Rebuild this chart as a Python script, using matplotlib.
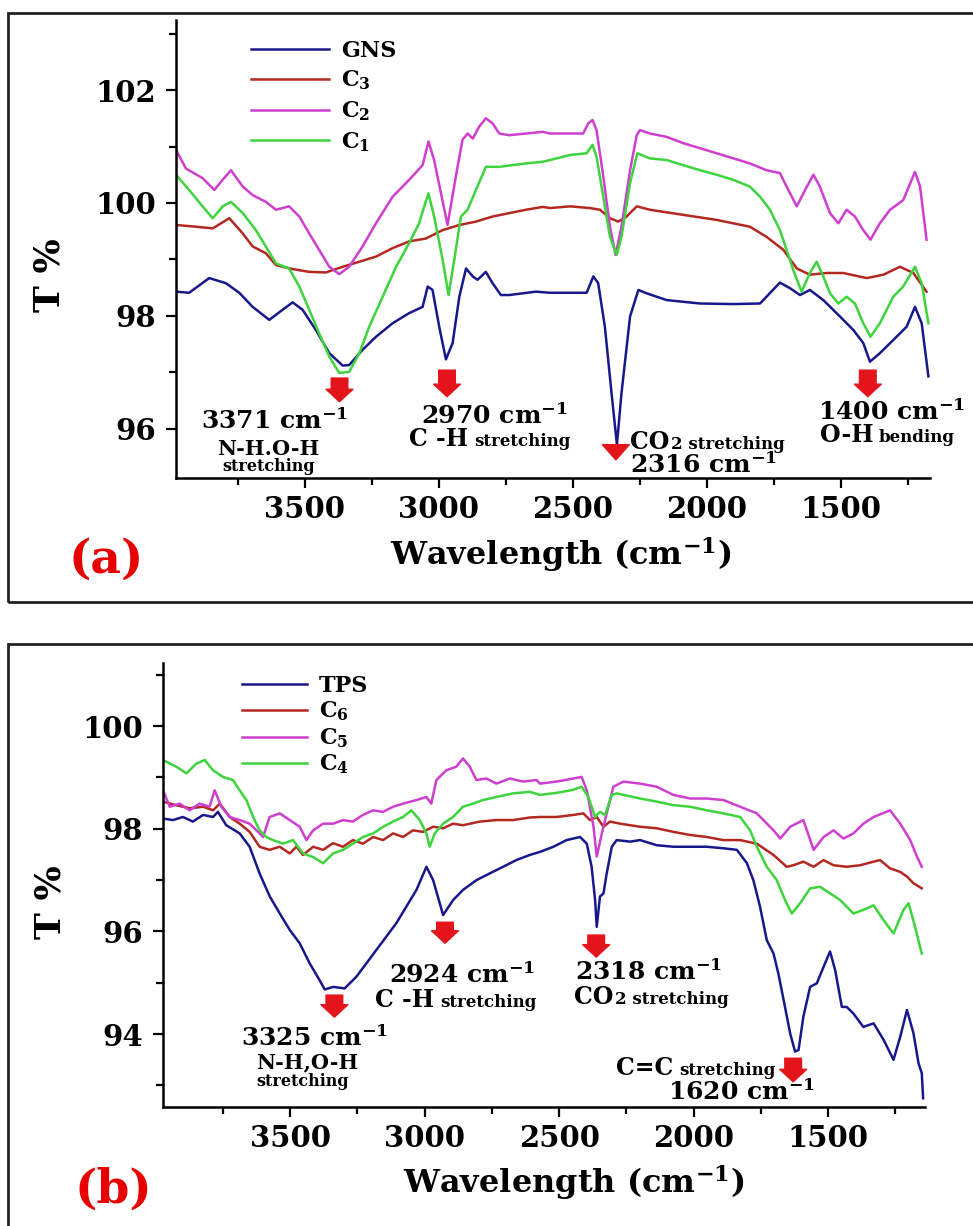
import matplotlib
matplotlib.use("Agg")
import matplotlib.pyplot as plt
from matplotlib.offsetbox import TextArea, HPacker, AnnotationBbox
from matplotlib.patches import Rectangle
from matplotlib.ticker import MultipleLocator

plt.rcParams["font.family"] = "DejaVu Serif"
plt.rcParams["font.weight"] = "bold"
plt.rcParams["axes.labelweight"] = "bold"
plt.rcParams["mathtext.fontset"] = "custom"
plt.rcParams["mathtext.rm"] = "DejaVu Serif:bold"
plt.rcParams["mathtext.it"] = "DejaVu Serif:italic:bold"
plt.rcParams["mathtext.bf"] = "DejaVu Serif:bold"

# ---- panel (a) spectra: (wavenumber cm-1, T %) ----
gns = [(3981, 98.43), (3932, 98.41), (3857, 98.67), (3795, 98.58), (3745, 98.41), (3695, 98.16),
       (3633, 97.93), (3583, 98.11), (3546, 98.24), (3509, 98.11), (3459, 97.75), (3409, 97.34),
       (3359, 97.12), (3335, 97.13), (3285, 97.40), (3235, 97.63), (3173, 97.87), (3111, 98.05),
       (3061, 98.16), (3042, 98.52), (3024, 98.46), (2999, 97.81), (2974, 97.23), (2949, 97.52),
       (2924, 98.34), (2899, 98.84), (2874, 98.70), (2856, 98.64), (2825, 98.78), (2800, 98.58),
       (2769, 98.37), (2738, 98.37), (2638, 98.43), (2586, 98.41), (2449, 98.41), (2424, 98.70),
       (2406, 98.58), (2381, 97.81), (2356, 96.63), (2336, 95.72), (2319, 96.63), (2287, 97.99),
       (2256, 98.46), (2225, 98.40), (2150, 98.28), (2026, 98.22), (1902, 98.21), (1802, 98.22),
       (1728, 98.59), (1690, 98.49), (1653, 98.37), (1616, 98.46), (1566, 98.28), (1504, 97.99),
       (1454, 97.75), (1417, 97.52), (1392, 97.19), (1355, 97.34), (1293, 97.63), (1255, 97.81),
       (1224, 98.16), (1199, 97.87), (1174, 96.93)]
c3 = [(3981, 99.61), (3907, 99.58), (3844, 99.55), (3782, 99.73), (3732, 99.46), (3695, 99.23),
      (3646, 99.11), (3608, 98.90), (3546, 98.83), (3484, 98.78), (3422, 98.77), (3359, 98.87),
      (3297, 98.96), (3235, 99.05), (3173, 99.20), (3111, 99.32), (3049, 99.37), (2986, 99.52),
      (2924, 99.61), (2862, 99.67), (2800, 99.76), (2738, 99.82), (2675, 99.88), (2613, 99.93),
      (2586, 99.91), (2511, 99.94), (2437, 99.91), (2399, 99.88), (2362, 99.73), (2331, 99.67),
      (2300, 99.76), (2262, 99.94), (2213, 99.88), (2089, 99.79), (1964, 99.70), (1840, 99.58),
      (1778, 99.40), (1715, 99.17), (1665, 98.84), (1616, 98.73), (1554, 98.76), (1492, 98.76),
      (1404, 98.67), (1342, 98.73), (1280, 98.87), (1230, 98.76), (1181, 98.43)]
c2 = [(3981, 100.94), (3944, 100.61), (3882, 100.44), (3838, 100.23), (3807, 100.41), (3776, 100.58),
      (3732, 100.29), (3695, 100.14), (3646, 100.02), (3608, 99.88), (3559, 99.94), (3521, 99.76),
      (3484, 99.46), (3447, 99.17), (3409, 98.87), (3372, 98.74), (3335, 98.87), (3285, 99.23),
      (3235, 99.64), (3173, 100.11), (3111, 100.41), (3061, 100.67), (3039, 101.09), (3018, 100.76),
      (2968, 99.61), (2937, 100.47), (2912, 101.12), (2893, 101.23), (2874, 101.14), (2850, 101.35),
      (2825, 101.50), (2800, 101.41), (2775, 101.23), (2738, 101.20), (2613, 101.26), (2586, 101.23),
      (2462, 101.23), (2443, 101.41), (2427, 101.47), (2412, 101.29), (2387, 100.47), (2362, 99.58),
      (2341, 99.08), (2319, 99.58), (2287, 100.58), (2262, 101.20), (2250, 101.29), (2213, 101.23),
      (2150, 101.17), (2089, 101.06), (1964, 100.88), (1840, 100.70), (1778, 100.58), (1728, 100.53),
      (1703, 100.29), (1665, 99.94), (1634, 100.23), (1603, 100.50), (1579, 100.29), (1541, 99.82),
      (1510, 99.64), (1479, 99.88), (1448, 99.76), (1417, 99.52), (1390, 99.35), (1355, 99.64),
      (1317, 99.88), (1268, 100.05), (1224, 100.55), (1205, 100.29), (1181, 99.35)]
c1 = [(3981, 100.50), (3932, 100.23), (3882, 99.94), (3844, 99.73), (3807, 99.94), (3776, 100.02),
      (3732, 99.82), (3683, 99.52), (3646, 99.23), (3608, 98.93), (3559, 98.84), (3521, 98.52),
      (3484, 98.11), (3447, 97.69), (3409, 97.28), (3372, 96.99), (3335, 97.01), (3297, 97.34),
      (3260, 97.81), (3210, 98.34), (3160, 98.87), (3111, 99.29), (3074, 99.64), (3055, 99.94),
      (3039, 100.17), (3018, 99.76), (2986, 98.99), (2964, 98.37), (2943, 98.99), (2918, 99.76),
      (2893, 99.88), (2862, 100.23), (2825, 100.64), (2775, 100.64), (2675, 100.70), (2613, 100.73),
      (2586, 100.76), (2511, 100.85), (2449, 100.88), (2427, 101.03), (2412, 100.82), (2387, 100.11),
      (2362, 99.40), (2337, 99.08), (2319, 99.40), (2287, 100.35), (2260, 100.88), (2213, 100.79),
      (2150, 100.76), (2089, 100.67), (2026, 100.58), (1964, 100.50), (1902, 100.41), (1840, 100.29),
      (1802, 100.11), (1765, 99.88), (1728, 99.52), (1703, 99.17), (1678, 98.81), (1647, 98.43),
      (1616, 98.76), (1591, 98.96), (1566, 98.70), (1541, 98.40), (1510, 98.22), (1479, 98.34),
      (1448, 98.22), (1417, 97.87), (1390, 97.63), (1355, 97.87), (1305, 98.34), (1268, 98.52),
      (1224, 98.87), (1199, 98.58), (1174, 97.87)]

# ---- panel (b) spectra ----
tps = [(3972, 98.20), (3935, 98.17), (3898, 98.23), (3861, 98.14), (3823, 98.27), (3786, 98.23),
       (3768, 98.33), (3737, 98.07), (3687, 97.91), (3650, 97.65), (3613, 97.13), (3575, 96.68),
       (3538, 96.35), (3501, 96.03), (3464, 95.77), (3427, 95.38), (3390, 95.05), (3371, 94.87),
       (3340, 94.92), (3297, 94.89), (3253, 95.12), (3216, 95.38), (3179, 95.64), (3142, 95.90),
       (3105, 96.16), (3068, 96.48), (3030, 96.81), (2993, 97.26), (2968, 97.00), (2931, 96.32),
       (2894, 96.61), (2857, 96.81), (2807, 97.00), (2758, 97.13), (2708, 97.26), (2659, 97.39),
       (2609, 97.49), (2571, 97.55), (2521, 97.65), (2472, 97.78), (2422, 97.84), (2397, 97.71),
       (2379, 97.26), (2366, 96.61), (2360, 96.09), (2348, 96.68), (2335, 96.74), (2323, 97.13),
       (2304, 97.65), (2286, 97.78), (2236, 97.75), (2199, 97.78), (2137, 97.68), (2075, 97.65),
       (2013, 97.65), (1951, 97.65), (1889, 97.62), (1839, 97.59), (1802, 97.33), (1778, 97.00),
       (1753, 96.48), (1728, 95.83), (1703, 95.57), (1685, 95.18), (1660, 94.52), (1641, 94.01),
       (1623, 93.66), (1610, 93.69), (1592, 94.34), (1567, 94.92), (1542, 94.99), (1517, 95.31),
       (1493, 95.61), (1474, 95.25), (1449, 94.53), (1431, 94.53), (1406, 94.40), (1369, 94.14),
       (1331, 94.21), (1294, 93.89), (1257, 93.50), (1232, 93.95), (1207, 94.47), (1183, 94.02),
       (1164, 93.43), (1152, 93.24), (1147, 92.75)]
c6 = [(3972, 98.53), (3923, 98.46), (3873, 98.40), (3823, 98.43), (3786, 98.36), (3761, 98.49),
      (3724, 98.23), (3687, 98.10), (3650, 97.94), (3613, 97.65), (3576, 97.59), (3538, 97.65),
      (3501, 97.52), (3476, 97.65), (3452, 97.49), (3414, 97.65), (3377, 97.59), (3340, 97.72),
      (3303, 97.65), (3266, 97.78), (3229, 97.71), (3191, 97.84), (3154, 97.78), (3117, 97.91),
      (3080, 97.84), (3043, 97.97), (3006, 97.94), (2968, 98.04), (2931, 98.01), (2894, 98.10),
      (2857, 98.07), (2795, 98.14), (2733, 98.17), (2671, 98.17), (2609, 98.22), (2571, 98.23),
      (2509, 98.23), (2447, 98.27), (2410, 98.30), (2385, 98.17), (2360, 98.23), (2335, 98.04),
      (2311, 98.14), (2273, 98.10), (2199, 98.04), (2137, 98.01), (2075, 97.94), (2013, 97.88),
      (1951, 97.84), (1889, 97.78), (1827, 97.78), (1765, 97.71), (1703, 97.49), (1654, 97.26),
      (1629, 97.29), (1592, 97.36), (1554, 97.26), (1517, 97.39), (1480, 97.29), (1431, 97.26),
      (1381, 97.29), (1331, 97.36), (1307, 97.39), (1270, 97.23), (1232, 97.16), (1207, 97.07),
      (1183, 96.94), (1152, 96.84)]
c5 = [(3972, 98.75), (3947, 98.43), (3910, 98.49), (3873, 98.36), (3836, 98.49), (3799, 98.43),
      (3780, 98.75), (3755, 98.43), (3724, 98.23), (3687, 98.17), (3650, 98.10), (3613, 97.91),
      (3600, 97.84), (3576, 98.23), (3538, 98.30), (3501, 98.17), (3464, 98.04), (3439, 97.78),
      (3414, 97.97), (3377, 98.10), (3340, 98.10), (3303, 98.17), (3266, 98.14), (3229, 98.27),
      (3191, 98.36), (3154, 98.33), (3117, 98.43), (3080, 98.49), (3030, 98.56), (2993, 98.62),
      (2975, 98.49), (2956, 98.95), (2919, 99.14), (2882, 99.21), (2857, 99.37), (2832, 99.21),
      (2807, 98.95), (2770, 98.98), (2733, 98.88), (2683, 98.98), (2634, 98.92), (2584, 98.95),
      (2571, 98.88), (2509, 98.92), (2447, 98.98), (2416, 99.01), (2397, 98.75), (2372, 98.04),
      (2360, 97.46), (2341, 97.91), (2323, 98.30), (2298, 98.82), (2261, 98.92), (2199, 98.88),
      (2137, 98.82), (2075, 98.66), (2013, 98.59), (1951, 98.59), (1889, 98.56), (1827, 98.43),
      (1765, 98.30), (1703, 97.97), (1678, 97.81), (1641, 98.04), (1592, 98.17), (1554, 97.59),
      (1517, 97.84), (1480, 97.97), (1443, 97.81), (1406, 97.91), (1369, 98.10), (1331, 98.23),
      (1270, 98.36), (1232, 98.10), (1195, 97.78), (1170, 97.46), (1152, 97.26)]
c4 = [(3972, 99.34), (3923, 99.21), (3885, 99.08), (3848, 99.27), (3817, 99.34), (3786, 99.14),
      (3749, 99.01), (3712, 98.95), (3687, 98.75), (3662, 98.56), (3637, 98.23), (3613, 97.97),
      (3588, 97.84), (3563, 97.78), (3526, 97.71), (3489, 97.78), (3452, 97.52), (3414, 97.45),
      (3377, 97.33), (3340, 97.52), (3303, 97.59), (3266, 97.71), (3229, 97.84), (3191, 97.91),
      (3154, 98.04), (3117, 98.14), (3080, 98.23), (3049, 98.36), (3018, 98.17), (2993, 97.91),
      (2981, 97.65), (2962, 97.91), (2931, 98.10), (2894, 98.23), (2857, 98.43), (2820, 98.49),
      (2783, 98.56), (2733, 98.62), (2671, 98.69), (2609, 98.72), (2571, 98.66), (2509, 98.70),
      (2447, 98.76), (2416, 98.82), (2391, 98.62), (2366, 98.23), (2348, 98.33), (2329, 98.27),
      (2304, 98.66), (2286, 98.69), (2199, 98.59), (2137, 98.53), (2075, 98.46), (2013, 98.43),
      (1951, 98.36), (1889, 98.30), (1827, 98.23), (1790, 97.97), (1765, 97.65), (1728, 97.26),
      (1691, 97.00), (1660, 96.61), (1635, 96.35), (1604, 96.55), (1567, 96.84), (1530, 96.87),
      (1492, 96.74), (1455, 96.61), (1406, 96.35), (1369, 96.42), (1331, 96.51), (1294, 96.22),
      (1257, 95.96), (1220, 96.42), (1201, 96.55), (1177, 96.09), (1152, 95.57)]

labels_a = ["GNS", "C$_3$", "C$_2$", "C$_1$"]
labels_b = ["TPS", "C$_6$", "C$_5$", "C$_4$"]
colors = ["#18188c", "#b42822", "#cf3fcf", "#3dd43d"]
RED = "#e3151b"


def style(ax, xlim, ylim):
    ax.set_xlim(*xlim)
    ax.set_ylim(*ylim)
    ax.spines["top"].set_visible(False)
    ax.spines["right"].set_visible(False)
    ax.spines["left"].set_linewidth(1.8)
    ax.spines["bottom"].set_linewidth(1.8)
    ax.xaxis.set_major_locator(MultipleLocator(500))
    ax.xaxis.set_minor_locator(MultipleLocator(250))
    ax.yaxis.set_major_locator(MultipleLocator(2))
    ax.yaxis.set_minor_locator(MultipleLocator(1))
    ax.tick_params(which="major", length=7.5, width=1.6, labelsize=21)
    ax.tick_params(which="minor", length=5, width=1.6)
    ax.tick_params(axis="x", pad=5)
    ax.tick_params(axis="y", pad=7)


def arrow(ax, x, y0, y1, hl=0.45, hw=0.97, tw=0.6):
    ax.annotate("", xy=(x, y1), xytext=(x, y0),
                arrowprops=dict(arrowstyle=f"simple,head_length={hl},head_width={hw},tail_width={tw}",
                                color=RED, shrinkA=0, shrinkB=0, mutation_scale=20),
                annotation_clip=False)


def mixed(ax, x, y, parts, ha="center", sep=4):
    kids = [TextArea(t, textprops=dict(fontsize=s, fontweight="bold")) for t, s in parts]
    box = HPacker(children=kids, align="baseline", pad=0, sep=sep)
    bx = {"center": 0.5, "left": 0.0, "right": 1.0}[ha]
    ab = AnnotationBbox(box, (x, y), xycoords="data", frameon=False,
                        box_alignment=(bx, 0.5), pad=0, annotation_clip=False)
    ab.set_clip_on(False)
    ax.add_artist(ab)


fig = plt.figure(figsize=(9.73, 12.26), dpi=100)
W, H = 973.0, 1226.0

# outer frames
fig.add_artist(Rectangle((8 / W, 1 - 602 / H), 1.0, (602 - 13) / H, transform=fig.transFigure,
                         fill=False, lw=2, ec="#222222"))
fig.add_artist(Rectangle((8 / W, -0.05), 1.0, (1 - 644 / H) + 0.05, transform=fig.transFigure,
                         fill=False, lw=2, ec="#222222"))

# ================= panel (a) =================
ax1 = fig.add_axes([176 / W, 1 - 478 / H, 754 / W, 458 / H])
for series, lab, col in zip([gns, c3, c2, c1], labels_a, colors):
    wn, t = zip(*series)
    ax1.plot(wn, t, color=col, lw=1.8, label=lab)
style(ax1, (3981, 1168), (95.13, 103.24))
ax1.legend(loc="upper left", bbox_to_anchor=(0.100, 0.957), frameon=False, fontsize=16,
           handlelength=3.5, handletextpad=0.55, labelspacing=0.32, borderpad=0, borderaxespad=0)
ax1.set_xlabel("Wavelength (cm$^{-1}$)", fontsize=23, fontweight="bold")
ax1.xaxis.label.set_va("center")
ax1.xaxis.set_label_coords(0.51, -0.168)
ax1.set_ylabel("T %", fontsize=26, fontweight="bold")
ax1.yaxis.label.set_va("center")
ax1.yaxis.set_label_coords(-0.168, 0.443)

arrow(ax1, 3371, 96.90, 96.48)
arrow(ax1, 2970, 97.04, 96.57)
arrow(ax1, 2340, 95.72, 95.45, hl=0.55, tw=0.3)
arrow(ax1, 1400, 97.04, 96.57)
ax1.text(3612, 96.14, "3371 cm$^{-1}$", fontsize=18, ha="center", va="center")
ax1.text(3638, 95.64, "N-H.O-H", fontsize=15, ha="center", va="center")
ax1.text(3634, 95.33, "stretching", fontsize=11.5, ha="center", va="center")
ax1.text(2795, 96.23, "2970 cm$^{-1}$", fontsize=18, ha="center", va="center")
mixed(ax1, 2810, 95.82, [("C -H", 17), ("stretching", 12)])
mixed(ax1, 2287, 95.77, [("CO", 17), ("2 stretching", 12)], ha="left", sep=1)
ax1.text(2287, 95.36, "2316 cm$^{-1}$", fontsize=18, ha="left", va="center")
ax1.text(1586, 96.30, "1400 cm$^{-1}$", fontsize=18, ha="left", va="center")
mixed(ax1, 1579, 95.89, [("O-H", 17), ("bending", 12)], ha="left")

fig.text(106 / W, 1 - 560 / H, "(a)", color="#e60000", fontsize=34, ha="center", va="center")

# ================= panel (b) =================
ax2 = fig.add_axes([163 / W, 1 - 1107 / H, 762 / W, 444 / H])
for series, lab, col in zip([tps, c6, c5, c4], labels_b, colors):
    wn, t = zip(*series)
    ax2.plot(wn, t, color=col, lw=1.8, label=lab)
style(ax2, (3972, 1140), (92.58, 101.23))
ax2.legend(loc="upper left", bbox_to_anchor=(0.104, 0.973), frameon=False, fontsize=16,
           handlelength=2.9, handletextpad=0.55, labelspacing=0.13, borderpad=0, borderaxespad=0)
ax2.set_xlabel("Wavelength (cm$^{-1}$)", fontsize=23, fontweight="bold")
ax2.xaxis.label.set_va("center")
ax2.xaxis.set_label_coords(0.539, -0.171)
ax2.set_ylabel("T %", fontsize=26, fontweight="bold")
ax2.yaxis.label.set_va("center")
ax2.yaxis.set_label_coords(-0.148, 0.462)

arrow(ax2, 3335, 94.76, 94.33)
arrow(ax2, 2924, 96.18, 95.77)
arrow(ax2, 2362, 95.93, 95.50)
arrow(ax2, 1630, 93.53, 93.07)
ax2.text(3407, 93.92, "3325 cm$^{-1}$", fontsize=18, ha="center", va="center")
ax2.text(3437, 93.45, "N-H,O-H", fontsize=15, ha="center", va="center")
ax2.text(3452, 93.08, "stretching", fontsize=11.5, ha="center", va="center")
ax2.text(2861, 95.15, "2924 cm$^{-1}$", fontsize=18, ha="center", va="center")
mixed(ax2, 2883, 94.66, [("C -H", 17), ("stretching", 12)])
ax2.text(2169, 95.21, "2318 cm$^{-1}$", fontsize=18, ha="center", va="center")
mixed(ax2, 2158, 94.72, [("CO", 17), ("2 stretching", 12)], sep=1)
mixed(ax2, 1697, 93.34, [("C=C", 17), ("stretching", 12)], ha="right")
ax2.text(1823, 92.87, "1620 cm$^{-1}$", fontsize=18, ha="center", va="center")

fig.text(113 / W, 1 - 1190 / H, "(b)", color="#e60000", fontsize=34, ha="center", va="center")

fig.savefig("out.png", dpi=100, facecolor="white")
